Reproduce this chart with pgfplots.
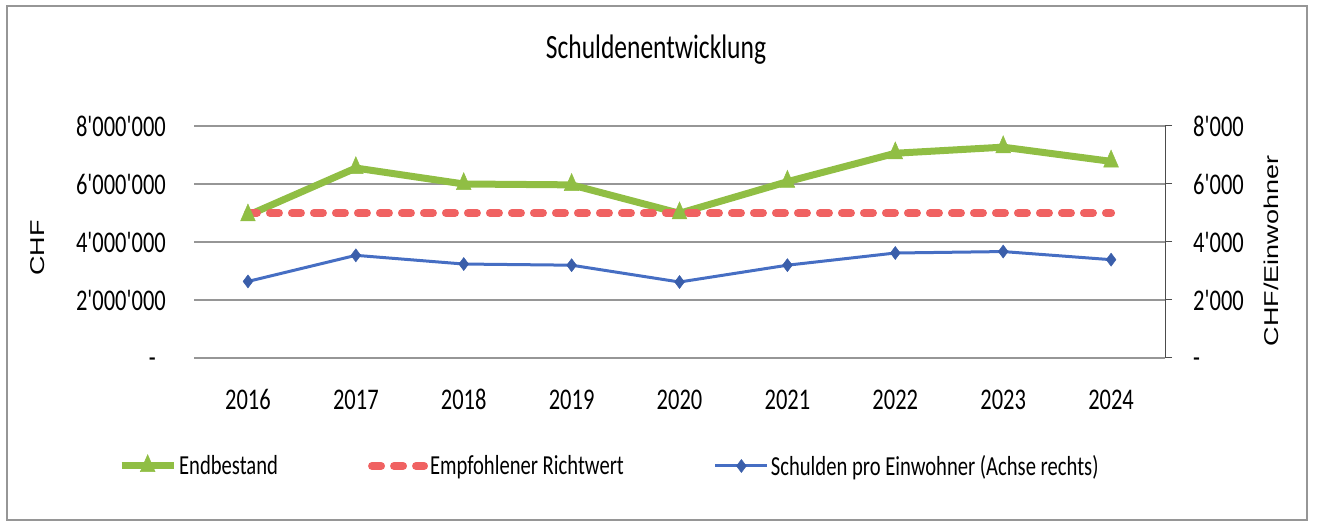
\documentclass[border=0pt]{standalone}
\usepackage{pgfplots}
\pgfplotsset{compat=1.18}
\usepackage{fontspec}
\setmainfont{Carlito}[FakeStretch=0.75, Ligatures=TeXOff]
\newfontfamily\lab{Liberation Sans}[FakeStretch=1.35]
\definecolor{cgreen}{RGB}{144,190,68}
\definecolor{cred}{RGB}{240,98,98}
\definecolor{cblue}{RGB}{70,110,195}
\definecolor{cbluem}{RGB}{58,94,170}
\definecolor{cgrid}{RGB}{150,150,150}
\begin{document}
\begin{tikzpicture}[x=1bp,y=1bp]
\useasboundingbox (0,0) rectangle (1317,522);
\draw[cgrid, line width=1.2bp] (7,2) rectangle (1307,516);
\node[anchor=base, font=\fontsize{34bp}{36bp}\selectfont] at (656,463) {Schuldenentwicklung};
\node[rotate=90, font=\lab\fontsize{20bp}{20bp}\selectfont] at (38,274) {CHF};
\node[rotate=90, font=\lab\fontsize{20bp}{20bp}\selectfont] at (1271,271) {CHF/Einwohner};
\begin{axis}[
  at={(194bp,164bp)}, anchor=south west, scale only axis,
  width=971bp, height=232bp,
  xmin=-0.5, xmax=8.5, ymin=0, ymax=8000000,
  scaled y ticks=false,
  xtick={0,1,2,3,4,5,6,7,8},
  xticklabels={2016,2017,2018,2019,2020,2021,2022,2023,2024},
  ytick={0,2000000,4000000,6000000,8000000},
  yticklabels={{-\vphantom{0}\kern10bp},2'000'000,4'000'000,6'000'000,8'000'000},
  ymajorgrids, grid style={cgrid, line width=1.2bp},
  axis line style={draw=none}, tick style={draw=none},
  ticklabel style={font=\fontsize{30bp}{30bp}\selectfont},
  yticklabel style={inner sep=0pt, anchor=east, xshift=-28bp},
  xticklabel style={inner sep=0pt, anchor=base, yshift=-52bp},
  clip=false,
  legend columns=3,
  legend cell align=left,
  legend style={at={(-0.0783,-0.4655)}, anchor=west, draw=none, fill=none, inner sep=0pt,
    font=\fontsize{27.5bp}{30bp}\selectfont,
    /tikz/every even column/.append style={column sep=88bp}},
  legend image code/.code={\draw[mark repeat=2,mark phase=2,#1] plot coordinates {(0bp,0bp) (26bp,0bp) (52bp,0bp)};},
]
\addplot[cgreen, line width=7bp, mark=triangle*, mark size=8.5bp, mark options={yscale=1.33, solid, line width=0.5bp}] coordinates {
(0,4920000) (1,6550000) (2,6000000) (3,5970000) (4,4990000) (5,6080000) (6,7060000) (7,7270000) (8,6780000)};
\addlegendentry{Endbestand}
\addplot[cred, line width=8bp, line cap=round, dash pattern=on 9bp off 13bp] coordinates {
(0,5000000) (1,5000000) (2,5000000) (3,5000000) (4,5000000) (5,5000000) (6,5000000) (7,5000000) (8,5000000)};
\addlegendentry{Empfohlener Richtwert}
\addlegendimage{cblue, line width=3bp, mark=diamond*, mark size=6.5bp, mark options={cbluem, solid, line width=0.5bp}}
\addlegendentry{Schulden pro Einwohner (Achse rechts)}
\end{axis}
\begin{axis}[
  at={(194bp,164bp)}, anchor=south west, scale only axis,
  width=971bp, height=232bp,
  xmin=-0.5, xmax=8.5, ymin=0, ymax=8000,
  scaled y ticks=false,
  axis y line*=right, axis x line=none,
  ytick={0,2000,4000,6000,8000},
  yticklabels={{-\vphantom{0}},2'000,4'000,6'000,8'000},
  tick align=outside, major tick length=7bp,
  axis line style={-, draw=black!70, line width=1bp},
  ytick style={draw=black!70, line width=1bp},
  ticklabel style={font=\fontsize{30bp}{30bp}\selectfont},
  yticklabel style={inner sep=0pt, anchor=west, xshift=21bp},
  clip=false,
]
\addplot[cblue, line width=3bp, mark=diamond*, mark size=6.5bp, mark options={cbluem, solid, line width=0.5bp}] coordinates {
(0,2640) (1,3540) (2,3240) (3,3200) (4,2620) (5,3200) (6,3620) (7,3670) (8,3390)};
\end{axis}
\end{tikzpicture}
\end{document}
